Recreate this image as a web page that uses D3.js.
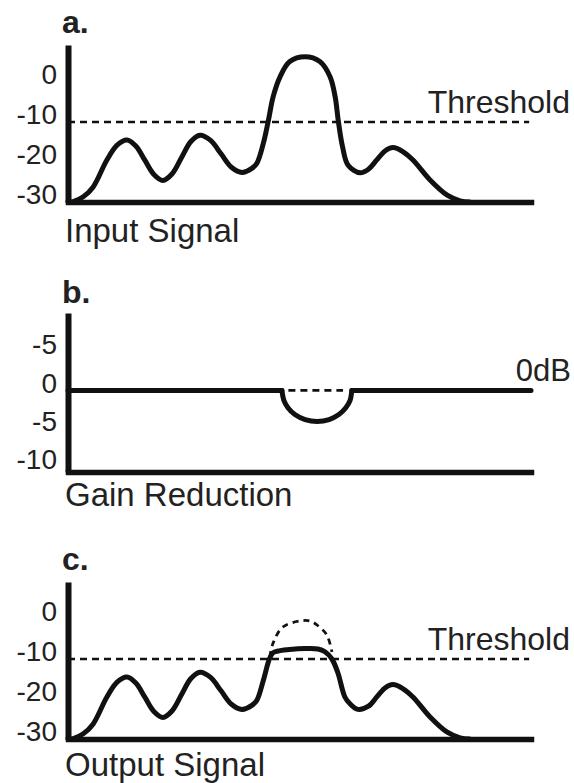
<!DOCTYPE html>
<html>
<head>
<meta charset="utf-8">
<script src="https://cdn.jsdelivr.net/npm/d3@7/dist/d3.min.js"></script>
<style>
  html, body { margin: 0; padding: 0; background: #fff; }
  svg { display: block; }
  text { font-family: "Liberation Sans", Arial, Helvetica, sans-serif; fill: #222; }
</style>
</head>
<body>
<svg id="chart" width="574" height="783"></svg>
<script>
// ---------- DATA ----------
// Panel a: input signal (time 0..100, level in dB)
const inputT = [0, 1.1, 3.3, 5.4, 8.4, 10.6, 12.7, 14.65, 16.6, 18.55, 20.5, 22.5, 24.5, 26.5, 28.5, 30.8, 33.05, 35.3, 37.6, 39.7, 40.8, 42.2, 43.3, 44.3, 45.8, 47.9, 51.2, 54.4, 56.6, 57.7, 58.4, 59.3, 60.5, 63.1, 64.9, 66.65, 68.4, 70.2, 72.3, 74.5, 78.2, 81.9, 84.7, 86.8];
const inputV = [-30, -29.9, -28.7, -26.3, -19.5, -15.8, -14.5, -16.0, -19.55, -23.1, -24.6, -22.95, -18.95, -14.95, -13.3, -14.6, -17.95, -21.3, -22.6, -21.6, -20.3, -15.3, -9.5, -3.7, 1.3, 5.1, 6.3, 5.1, 1.3, -3.7, -9.9, -16.2, -20.8, -22.7, -21.8, -19.55, -17.3, -16.4, -17.4, -19.5, -24.5, -28.3, -29.7, -30];
const thresholdDb = -10;
const levelTicks = [0, -10, -20, -30];
const levelTickLabels = ["0", "-10", "-20", "-30"];

// Panel b: gain reduction (dB)
const gainFlatT = [0, 46.2, 61.3, 100];
const gainDipT = [46.2, 46.65, 47.5, 49.0, 51.2, 53.8, 56.4, 58.5, 60.0, 60.9, 61.3];
const gainDipV = [0, -1.34, -2.26, -3.15, -3.8, -4.05, -3.8, -3.15, -2.26, -1.34, 0];
const gainDashT = [47.6, 59.4];
const gainTicks = [5, 0, -5, -10];
const gainTickLabels = ["-5", "0", "-5", "-10"];

// Panel c: output signal
const outputT = [0, 1.1, 3.3, 5.4, 8.4, 10.6, 12.7, 14.65, 16.6, 18.55, 20.5, 22.5, 24.5, 26.5, 28.5, 30.8, 33.05, 35.3, 37.6, 39.7, 40.8, 42.2, 43.5, 44.3, 45.8, 47.9, 51.2, 54.0, 55.5, 57.0, 58.3, 59.8, 60.9, 62.6, 64.9, 66.65, 68.4, 70.2, 72.3, 74.5, 78.2, 81.9, 84.7, 86.8];
const outputV = [-30, -29.9, -28.7, -26.3, -19.5, -15.8, -14.5, -16.0, -19.55, -23.1, -24.6, -22.95, -18.95, -14.95, -13.3, -14.6, -17.95, -21.3, -22.6, -21.6, -20.3, -15.3, -10, -8.4, -7.9, -7.6, -7.4, -7.5, -8.2, -10, -13.5, -19.5, -21.2, -22.6, -21.8, -19.55, -17.3, -16.4, -17.4, -19.5, -24.5, -28.3, -29.7, -30];
// original (uncompressed) peak shown dashed in panel c
const origPeakT = [43.6, 44.3, 46.4, 50.1, 52.3, 53.8, 55.9, 57.0];
const origPeakV = [-9.5, -6, -2, -0.5, -0.5, -1.5, -4, -8.25];

const panelLetters = ["a.", "b.", "c."];
const panelTitles = ["Input Signal", "Gain Reduction", "Output Signal"];
const thresholdLabel = "Threshold";
const zeroLabel = "0dB";

// ---------- DRAW ----------
const svg = d3.select("#chart");
const INK = "#111";

const x = d3.scaleLinear().domain([0, 100]).range([68, 531]);
const yA = d3.scaleLinear().domain([-30, 9.25]).range([202, 45]);
const yB = d3.scaleLinear().domain([-10.65, 10.1]).range([472, 313]);

const zip = (ts, vs) => ts.map((t, i) => [t, vs[i]]);

function drawAxes(g, y, ticks, labels) {
  const left = d3.axisLeft(y).tickValues(ticks)
    .tickFormat((d, i) => labels[i]).tickSize(0).tickSizeOuter(0).tickPadding(11);
  const ga = g.append("g").attr("transform", `translate(${x(0)},0)`).call(left);
  ga.attr("font-family", null).attr("font-size", null);
  ga.select(".domain").attr("stroke", INK).attr("stroke-width", 6);
  ga.selectAll(".tick text").attr("dy", "0.06em").style("font-size", "28px").attr("fill", "#222");

  const bottom = d3.axisBottom(x).tickValues([]).tickSizeOuter(0);
  const gb = g.append("g").attr("transform", `translate(0,${y.range()[0]})`).call(bottom);
  gb.select(".domain").attr("stroke", INK).attr("stroke-width", 5.5).attr("stroke-linecap", "square");
}

const smooth = d3.curveCatmullRom.alpha(0.5);

function drawSignal(g, y, pts, curve) {
  const line = d3.line().x(d => x(d[0])).y(d => y(d[1])).curve(curve || smooth);
  g.append("path").datum(pts).attr("d", line)
    .attr("fill", "none").attr("stroke", INK).attr("stroke-width", 5)
    .attr("stroke-linejoin", "round").attr("stroke-linecap", "round");
}

function drawThreshold(g, y) {
  g.append("line")
    .attr("x1", x(0)).attr("x2", x(99.6))
    .attr("y1", y(thresholdDb)).attr("y2", y(thresholdDb))
    .attr("stroke", INK).attr("stroke-width", 2.6).attr("stroke-dasharray", "7,5");
  g.append("text").attr("x", 570).attr("y", y(thresholdDb) - 9)
    .attr("text-anchor", "end").style("font-size", "32px").text(thresholdLabel);
}

function drawLabels(g, i, letterY, titleY) {
  g.append("text").attr("x", 62).attr("y", letterY)
    .style("font-size", "32px").style("font-weight", "bold").attr("fill", "#111").text(panelLetters[i]);
  g.append("text").attr("x", 65).attr("y", titleY)
    .style("font-size", "33px").text(panelTitles[i]);
}

// Panel a
const gA = svg.append("g");
drawThreshold(gA, yA);
drawAxes(gA, yA, levelTicks, levelTickLabels);
drawSignal(gA, yA, zip(inputT, inputV));
drawLabels(gA, 0, 33, 242);

// Panel b
const gB = svg.append("g");
gB.append("line")
  .attr("x1", x(gainDashT[0])).attr("x2", x(gainDashT[1]))
  .attr("y1", yB(0)).attr("y2", yB(0))
  .attr("stroke", INK).attr("stroke-width", 2.6).attr("stroke-dasharray", "7,5");
drawAxes(gB, yB, gainTicks, gainTickLabels);
drawSignal(gB, yB, [[gainFlatT[0], 0], [gainFlatT[1], 0]], d3.curveLinear);
drawSignal(gB, yB, zip(gainDipT, gainDipV));
drawSignal(gB, yB, [[gainFlatT[2], 0], [gainFlatT[3], 0]], d3.curveLinear);
gB.append("text").attr("x", 571).attr("y", yB(0) - 9)
  .attr("text-anchor", "end").style("font-size", "31px").text(zeroLabel);
drawLabels(gB, 1, 303, 506);

// Panel c
const gC = svg.append("g").attr("transform", "translate(0,537)");
drawThreshold(gC, yA);
drawAxes(gC, yA, levelTicks, levelTickLabels);
gC.append("path").datum(zip(origPeakT, origPeakV))
  .attr("d", d3.line().x(d => x(d[0])).y(d => yA(d[1])).curve(smooth))
  .attr("fill", "none").attr("stroke", INK).attr("stroke-width", 2.8).attr("stroke-dasharray", "6,5");
drawSignal(gC, yA, zip(outputT, outputV));
drawLabels(gC, 2, 33, 239);
</script>
</body>
</html>
